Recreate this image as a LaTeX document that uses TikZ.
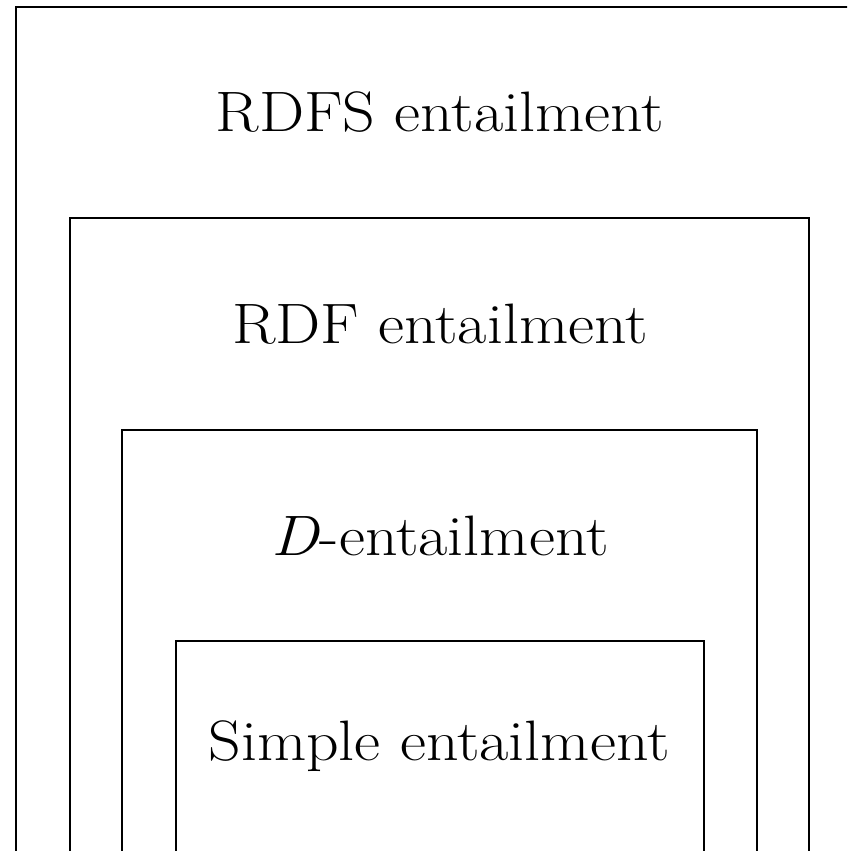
\documentclass[tikz,border=0pt]{standalone}
\begin{document}
\begin{tikzpicture}[x=1pt,y=-1pt,
  box/.style={draw=black,line width=2.4pt},
  lbl/.style={anchor=base,inner sep=0pt,font=\fontsize{57}{62}\selectfont}]
\useasboundingbox (0,0) rectangle (847,851);
\clip (0,0) rectangle (847,851);
\draw[box] (16,7) rectangle (864,900);
\draw[box] (70,218) rectangle (809,900);
\draw[box] (122,430) rectangle (757,900);
\draw[box] (176,641) rectangle (704,900);
\node[lbl] (rdfs) at (440,131) {\scalebox{1.12}[1]{RDFS entailment}};
\node[lbl] (rdf) at (440,343) {\scalebox{1.12}[1]{RDF entailment}};
\node[lbl] (d) at (440,555) {\scalebox{1.12}[1]{\textit{D}-entailment}};
\node[lbl] (simple) at (439,760) {\scalebox{1.12}[1]{Simple entailment}};
\end{tikzpicture}
\end{document}
